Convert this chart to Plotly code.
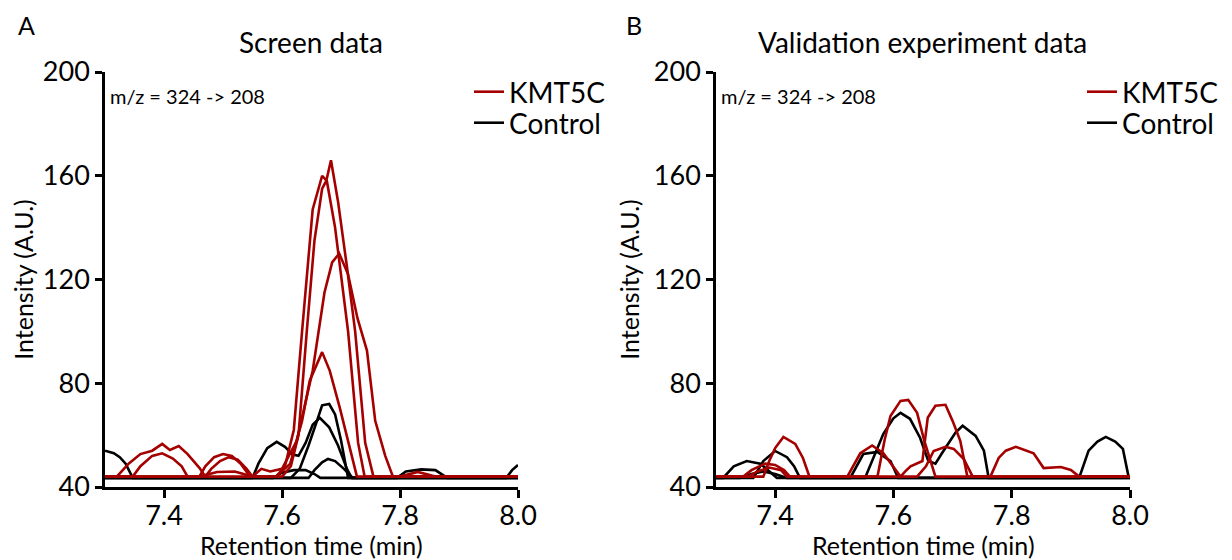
import plotly.graph_objects as go

# ---------------- Panel A: Screen data ----------------
a_kmt5c_1_t = [7.30, 7.32, 7.34, 7.36, 7.38, 7.397, 7.41, 7.425, 7.44, 7.46, 7.47, 7.60, 7.615, 7.628, 7.642, 7.655, 7.668, 7.675, 7.683, 7.695, 7.71, 7.724, 7.741, 7.755, 8.0]
a_kmt5c_1_i = [44, 44, 49, 52.7, 54, 56.6, 54.3, 55.8, 52.7, 47.4, 44, 44, 48, 60, 100, 135, 155, 158, 166, 150, 125, 100, 57, 44, 44]

a_kmt5c_2_t = [7.30, 7.347, 7.36, 7.38, 7.397, 7.415, 7.43, 7.44, 7.46, 7.47, 7.485, 7.50, 7.515, 7.53, 7.546, 7.59, 7.605, 7.62, 7.634, 7.652, 7.668, 7.676, 7.69, 7.712, 7.729, 7.74, 8.0]
a_kmt5c_2_i = [44, 44, 48, 52, 53, 51, 48, 44, 44, 48, 51.5, 52.7, 52, 49, 44, 44, 48, 62, 100, 147, 160, 158, 140, 100, 57, 44, 44]

a_kmt5c_3_t = [7.30, 7.47, 7.48, 7.495, 7.51, 7.525, 7.54, 7.55, 7.565, 7.58, 7.60, 7.625, 7.652, 7.672, 7.685, 7.697, 7.712, 7.728, 7.744, 7.758, 7.775, 7.788, 8.0]
a_kmt5c_3_i = [44, 44, 47, 50, 51.5, 50.5, 47, 44, 47, 46, 47, 57.8, 84.8, 115, 126.6, 130, 122, 105, 92.6, 65.5, 52, 44, 44]

a_kmt5c_4_t = [7.30, 7.46, 7.49, 7.52, 7.55, 7.59, 7.614, 7.634, 7.647, 7.668, 7.681, 7.698, 7.715, 7.727, 7.80, 7.83, 7.86, 8.0]
a_kmt5c_4_i = [44, 44, 45.8, 46, 44, 44, 49, 65.5, 81, 92, 84.8, 70.5, 55, 44, 44, 45.8, 44, 44]

a_control_1_t = [7.30, 7.315, 7.325, 7.335, 7.347, 7.55, 7.56, 7.575, 7.591, 7.605, 7.618, 7.628, 7.64, 7.652, 7.664, 7.68, 7.695, 7.71, 7.718, 7.795, 7.81, 7.836, 7.86, 7.88, 7.98, 7.99, 8.0]
a_control_1_i = [54, 53, 51.5, 49, 43.5, 43.5, 49, 55, 57.4, 55.5, 52.5, 52, 57, 64, 66.7, 63, 56, 47, 43.5, 43.5, 46, 46.8, 46.5, 43.5, 43.5, 46.5, 48.5]

a_control_2_t = [7.30, 7.615, 7.63, 7.645, 7.66, 7.668, 7.68, 7.69, 7.70, 7.712, 8.0]
a_control_2_i = [43.5, 43.5, 47, 56, 66, 71.5, 72, 68, 58, 43.5, 43.5]

a_control_3_t = [7.30, 7.645, 7.655, 7.668, 7.678, 7.69, 7.705, 7.72, 8.0]
a_control_3_i = [43.5, 43.5, 46.5, 49.5, 50.8, 50, 47, 43.5, 43.5]

a_control_4_t = [7.30, 7.585, 7.60, 7.62, 7.64, 7.655, 7.665, 8.0]
a_control_4_i = [43.5, 43.5, 45.5, 46.5, 46.5, 45, 43.5, 43.5]

# ---------------- Panel B: Validation experiment data ----------------
b_kmt5c_1_t = [7.30, 7.38, 7.39, 7.40, 7.414, 7.434, 7.447, 7.458, 7.573, 7.585, 7.595, 7.612, 7.625, 7.64, 7.652, 7.663, 7.671, 7.764, 7.778, 7.79, 7.807, 7.837, 7.854, 7.883, 7.90, 7.914, 8.0]
b_kmt5c_1_i = [44, 44, 50, 55, 59.3, 56.6, 51.2, 44, 44, 58, 67.4, 73.2, 73.6, 68.6, 58, 50, 44, 44, 51.2, 54, 55.5, 53, 47.3, 47.7, 46.6, 44, 44]

b_kmt5c_2_t = [7.30, 7.346, 7.36, 7.383, 7.40, 7.415, 7.425, 7.522, 7.544, 7.564, 7.583, 7.60, 7.612, 7.62, 7.629, 7.649, 7.658, 7.671, 7.688, 7.70, 7.713, 7.725, 8.0]
b_kmt5c_2_i = [44, 44, 46.5, 49, 48.5, 46.5, 44, 44, 53, 56, 53, 47.5, 44, 46, 48, 50, 66.7, 71.3, 71.7, 65.5, 57.8, 44, 44]

b_kmt5c_3_t = [7.30, 7.355, 7.37, 7.39, 7.41, 7.42, 7.64, 7.655, 7.668, 7.688, 7.702, 7.719, 7.734, 8.0]
b_kmt5c_3_i = [44, 44, 46, 47.5, 46.5, 44, 44, 48, 53.9, 55.5, 54.7, 50.8, 44, 44]

b_control_1_t = [7.30, 7.312, 7.33, 7.352, 7.375, 7.39, 7.403, 7.552, 7.57, 7.583, 7.60, 7.612, 7.628, 7.645, 7.659, 7.671, 7.682, 7.693, 7.705, 7.717, 7.739, 7.753, 7.761, 7.914, 7.93, 7.945, 7.959, 7.975, 7.988, 7.998]
b_control_1_i = [43.5, 43.5, 48, 50, 49, 46, 43.5, 43.5, 53, 60.5, 66.5, 68.6, 66.3, 59, 50, 49, 53, 56.6, 61, 63.6, 59.7, 54, 43.5, 43.5, 54, 57.5, 59.3, 57.5, 54.7, 43.5]

b_control_2_t = [7.30, 7.363, 7.38, 7.40, 7.42, 7.432, 7.442, 7.527, 7.549, 7.573, 7.595, 7.608, 8.0]
b_control_2_i = [43.5, 43.5, 50, 53.9, 51.5, 48, 43.5, 43.5, 52.7, 53.5, 50, 43.5, 43.5]

b_control_3_t = [7.30, 7.34, 7.36, 7.38, 7.40, 7.42, 8.0]
b_control_3_i = [43.5, 43.5, 45, 46, 45, 43.5, 43.5]

x_ticks = [7.4, 7.6, 7.8, 8.0]
x_tick_labels = ["7.4", "7.6", "7.8", "8.0"]
y_ticks = [40, 80, 120, 160, 200]
y_tick_labels = ["40", "80", "120", "160", "200"]

RED = "#a50000"
BLACK = "#000000"
FONT = "Lato"

W, H = 1232, 560
OFF = 8  # page body margin in the browser


def px(x):
    return (x - OFF) / W


def py(y):
    return 1 - (y - OFF) / H


fig = go.Figure()


def add_group(series, color, name, xa, ya, legend):
    for k, (t, v) in enumerate(series):
        fig.add_trace(go.Scatter(
            x=t, y=v, mode="lines", xaxis=xa, yaxis=ya,
            line=dict(color=color, width=2.6),
            name=name, showlegend=(k == 0), legend=legend,
            hoverinfo="skip"))


add_group([(a_control_1_t, a_control_1_i), (a_control_2_t, a_control_2_i), (a_control_3_t, a_control_3_i), (a_control_4_t, a_control_4_i)], BLACK, "Control", "x", "y", "legend2")
add_group([(a_kmt5c_1_t, a_kmt5c_1_i), (a_kmt5c_2_t, a_kmt5c_2_i), (a_kmt5c_3_t, a_kmt5c_3_i), (a_kmt5c_4_t, a_kmt5c_4_i)], RED, "KMT5C", "x", "y", "legend")
add_group([(b_control_1_t, b_control_1_i), (b_control_2_t, b_control_2_i), (b_control_3_t, b_control_3_i)], BLACK, "Control", "x2", "y2", "legend4")
add_group([(b_kmt5c_1_t, b_kmt5c_1_i), (b_kmt5c_2_t, b_kmt5c_2_i), (b_kmt5c_3_t, b_kmt5c_3_i)], RED, "KMT5C", "x2", "y2", "legend3")

ydom = [py(487), py(72)]

axis_common = dict(showgrid=False, zeroline=False, showline=True, linecolor="black", linewidth=2.5,
                   ticks="outside", tickcolor="black", tickwidth=2.5, automargin=False,
                   tickfont=dict(family=FONT, size=27, color="black"))

xaxis_common = dict(axis_common, range=[7.3, 8.0], tickvals=x_ticks, ticktext=x_tick_labels, ticklen=8,
                    ticklabelstandoff=-5)
yaxis_common = dict(axis_common, range=[40, 200], tickvals=y_ticks, ticktext=y_tick_labels, ticklen=7,
                    title=dict(text="Intensity (A.U.)", font=dict(family=FONT, size=25, color="black"), standoff=8))

legend_common = dict(xanchor="left", yanchor="middle", bgcolor="rgba(0,0,0,0)",
                     font=dict(family=FONT, size=28, color="black"), itemwidth=30)

fig.update_layout(
    width=W, height=H,
    margin=dict(l=0, r=0, t=0, b=0, autoexpand=False),
    paper_bgcolor="white", plot_bgcolor="white",
    xaxis=dict(xaxis_common, domain=[px(105), px(518)], anchor="y"),
    yaxis=dict(yaxis_common, domain=ydom, anchor="x"),
    xaxis2=dict(xaxis_common, domain=[px(716), px(1130)], anchor="y2"),
    yaxis2=dict(yaxis_common, domain=ydom, anchor="x2"),
    legend=dict(legend_common, x=px(469), y=py(92)),
    legend2=dict(legend_common, x=px(469), y=py(123)),
    legend3=dict(legend_common, x=px(1082), y=py(92)),
    legend4=dict(legend_common, x=px(1082), y=py(123)),
    showlegend=True,
)

annotations = [
    dict(text="A", x=px(16), y=py(25), xref="paper", yref="paper", xanchor="left", yanchor="middle",
         showarrow=False, font=dict(family=FONT, size=25, color="black")),
    dict(text="B", x=px(624), y=py(25), xref="paper", yref="paper", xanchor="left", yanchor="middle",
         showarrow=False, font=dict(family=FONT, size=25, color="black")),
    dict(text="Screen data", x=px(311), y=py(42), xref="paper", yref="paper", xanchor="center", yanchor="middle",
         showarrow=False, font=dict(family=FONT, size=28, color="black")),
    dict(text="Validation experiment data", x=px(922), y=py(42), xref="paper", yref="paper", xanchor="center", yanchor="middle",
         showarrow=False, font=dict(family=FONT, size=28, color="black")),
    dict(text="m/z = 324 -> 208", x=px(108), y=py(96), xref="paper", yref="paper", xanchor="left", yanchor="middle",
         showarrow=False, font=dict(family=FONT, size=20, color="black")),
    dict(text="m/z = 324 -> 208", x=px(719), y=py(96), xref="paper", yref="paper", xanchor="left", yanchor="middle",
         showarrow=False, font=dict(family=FONT, size=20, color="black")),
    dict(text="Retention time (min)", x=px(311), y=py(545), xref="paper", yref="paper", xanchor="center", yanchor="middle",
         showarrow=False, font=dict(family=FONT, size=25, color="black")),
    dict(text="Retention time (min)", x=px(923), y=py(545), xref="paper", yref="paper", xanchor="center", yanchor="middle",
         showarrow=False, font=dict(family=FONT, size=25, color="black")),
]
fig.update_layout(annotations=annotations)

fig.write_html("out.html")
